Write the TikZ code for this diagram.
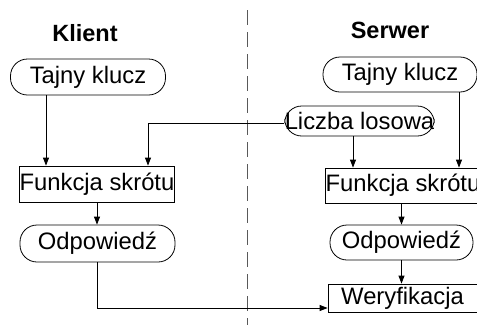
\documentclass[tikz,border=0pt]{standalone}
\usepackage{fontspec}
\setmainfont{Liberation Sans}
\usetikzlibrary{arrows.meta}
\begin{document}
\begin{tikzpicture}[x=1pt,y=1pt,
  every node/.style={font=\fontsize{23.8}{27}\selectfont, inner sep=0pt},
  pill/.style={draw, line width=0.8pt, rounded corners=17pt},
  boxnode/.style={draw, line width=0.8pt},
  title/.style={font=\fontsize{23.5}{27}\selectfont\bfseries},
  arr/.style={draw, line width=0.8pt, -{Triangle[length=8pt,width=6pt]}},
  link/.style={draw, line width=0.8pt}]
\useasboundingbox (0,0) rectangle (477,-325);
\clip (0,0) rectangle (477,-325);

% divider between the two parties
\draw[black!65, line width=0.8pt, dash pattern=on 15pt off 7pt] (247,-10) -- (247,-325);

% titles
\node[title] (klient) at (85,-33) {Klient};
\node[title] (serwer) at (390,-30) {Serwer};

% client side
\node[pill, minimum width=155pt, minimum height=36pt] (ctk) at (88,-77) {Tajny klucz};
\node[boxnode, minimum width=154pt, minimum height=36pt] (cf) at (97,-184) {Funkcja skrótu};
\node[pill, minimum width=155pt, minimum height=37pt] (co) at (97.5,-243.5) {Odpowiedź};

% server side
\node[pill, minimum width=154pt, minimum height=35pt] (stk) at (400,-74.5) {Tajny klucz};
\node[pill, minimum width=147pt, minimum height=30pt] (ll) at (359.5,-121) {Liczba losowa};
\node[boxnode, minimum width=154pt, minimum height=35pt] (sf) at (403,-185.5) {Funkcja skrótu};
\node[pill, minimum width=143pt, minimum height=35pt] (so) at (401.5,-242.5) {Odpowiedź};
\node[boxnode, minimum width=149pt, minimum height=28pt] (w) at (402.5,-298) {Weryfikacja};

% connectors
\draw[arr] ([xshift=-42pt]ctk.south) -- ([xshift=-42pt]ctk.south |- cf.north);
\draw[arr] ([yshift=-2pt]ll.west) -| ([xshift=51pt]cf.north);
\draw[arr] (cf.south) -- (cf.south |- co.north);
\draw[arr] ([xshift=-6.5pt]ll.south) -- ([xshift=-6.5pt]ll.south |- sf.north);
\draw[arr] ([xshift=59pt]stk.south) -- ([xshift=59pt]stk.south |- sf.north);
\draw[arr] (so.north |- sf.south) -- (so.north);
\draw[arr] (so.south) -- (so.south |- w.north);
\draw[arr] (co.south) |- ([yshift=-10pt]w.west);
\end{tikzpicture}
\end{document}
